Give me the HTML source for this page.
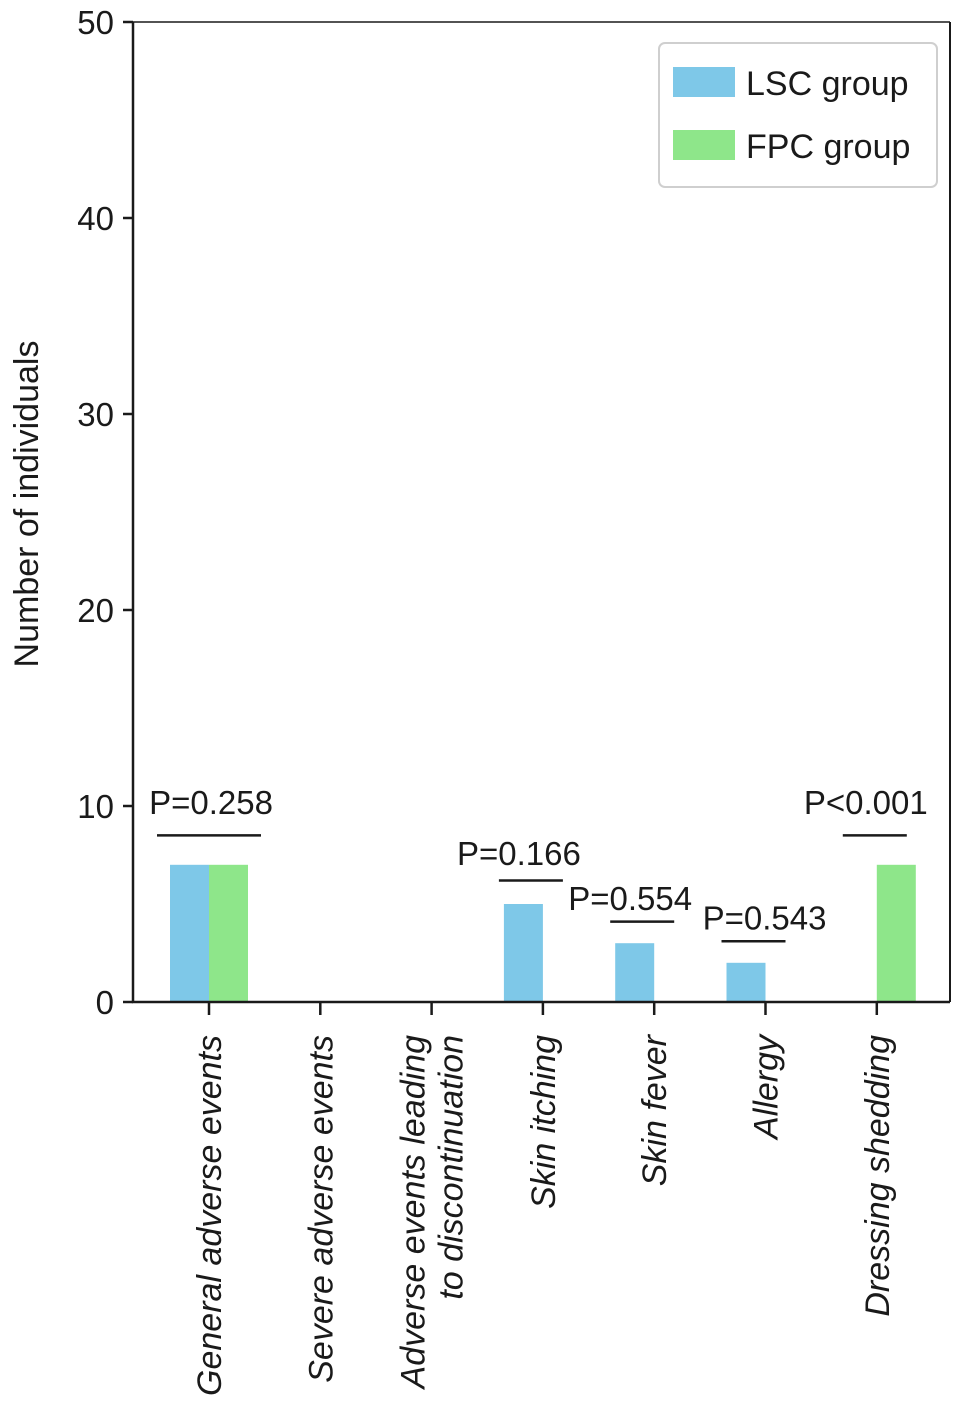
<!DOCTYPE html>
<html><head><meta charset="utf-8"><style>
html,body{margin:0;padding:0;background:#fff;}
svg text{font-family:"Liberation Sans",Arial,sans-serif;fill:#1a1a1a;}
</style></head><body>
<svg id="chart" width="969" height="1406" viewBox="0 0 969 1406" xmlns="http://www.w3.org/2000/svg"></svg>
<script>
const categories = ["General adverse events","Severe adverse events","Adverse events leading|to discontinuation","Skin itching","Skin fever","Allergy","Dressing shedding"];
const lscValues = [7,0,0,5,3,2,0];
const fpcValues = [7,0,0,0,0,0,7];
const yTicks = [0,10,20,30,40,50];
const pLabels = ["P=0.258","","","P=0.166","P=0.554","P=0.543","P<0.001"];
const pLineValues = [8.5,null,null,6.2,4.1,3.1,8.5];
const pTextValues = [10.2,null,null,7.6,5.3,4.3,10.2];

const NS="http://www.w3.org/2000/svg";
const svg=document.getElementById('chart');
const X0=133,X1=950,Y0=1002,Y1=22;
const firstC=209,step=111.3,barW=39;
const textShift=[2,0,0,-24,-24,-1,-11];
function xC(i){return firstC+i*step;}
function y(v){return Y0-(v/50)*(Y0-Y1);}
function mk(tag,attrs,parent){const e=document.createElementNS(NS,tag);for(const k in attrs)e.setAttribute(k,attrs[k]);(parent||svg).appendChild(e);return e;}

categories.forEach((c,i)=>{
  if(lscValues[i]>0){
    const r=mk('rect',{x:xC(i)-barW,y:y(lscValues[i]),width:barW,height:Y0-y(lscValues[i]),fill:'#7ec8e8'});
    
    
  }
  if(fpcValues[i]>0){
    const r=mk('rect',{x:xC(i),y:y(fpcValues[i]),width:barW,height:Y0-y(fpcValues[i]),fill:'#8ee68a'});
    
    
  }
});

const ax=mk('path',{d:`M${X0} ${Y1} V${Y0} H${X1}`,stroke:'#1a1a1a','stroke-width':2.5,fill:'none'});


const rax=mk('path',{d:`M${X1} ${Y0} V${Y1}`,stroke:'#1a1a1a','stroke-width':2,fill:'none'});


const tax=mk('path',{d:`M${X0} ${Y1} H${X1}`,stroke:'#1a1a1a','stroke-width':1.5,fill:'none'});



yTicks.forEach(t=>{
  const l=mk('line',{x1:X0-10,x2:X0,y1:y(t),y2:y(t),stroke:'#1a1a1a','stroke-width':2.5});
  
  
  const tx=mk('text',{x:114,y:y(t)+12,'text-anchor':'end','font-size':33});
  tx.textContent=t;
  
  
});

const yt=mk('text',{transform:'translate(38,504) rotate(-90)','text-anchor':'middle','font-size':34});
yt.textContent='Number of individuals';



categories.forEach((c,i)=>{
  const l=mk('line',{x1:xC(i),x2:xC(i),y1:Y0,y2:Y0+13,stroke:'#1a1a1a','stroke-width':2.5});
  
  
  const lines=c.split('|');
  lines.forEach((ln,k)=>{
    const off=(k-(lines.length-1)/2)*38;
    const tx=mk('text',{transform:`translate(${xC(i)+12+off},1035) rotate(-90)`,'text-anchor':'end','font-size':34,'font-style':'italic'});
    tx.textContent=ln;
    
    
  });
  if(pLabels[i]){
    let lx1=xC(i)-52,lx2=xC(i)+52;
    if(lscValues[i]>0&&fpcValues[i]===0){lx1=xC(i)-44;lx2=xC(i)+20;}
    if(fpcValues[i]>0&&lscValues[i]===0){lx1=xC(i)-34;lx2=xC(i)+30;}
    const pl=mk('line',{x1:lx1,x2:lx2,y1:y(pLineValues[i]),y2:y(pLineValues[i]),stroke:'#1a1a1a','stroke-width':2.5});
    
    
    const pt=mk('text',{x:xC(i)+textShift[i],y:y(pTextValues[i])+12,'text-anchor':'middle','font-size':33});
    pt.textContent=pLabels[i];
    
    
  }
});

const lg=mk('g',{});


mk('rect',{x:659,y:43,width:278,height:144,rx:6,fill:'#fff',stroke:'#cfcfcf','stroke-width':2},lg);
const items=[['LSC group','#7ec8e8',67],['FPC group','#8ee68a',130]];
items.forEach(([t,col,yy])=>{
  const s=mk('rect',{x:673,y:yy,width:62,height:30,fill:col},lg);
  
  
  const tx=mk('text',{x:746,y:yy+28,'font-size':34},lg);
  tx.textContent=t;
  
  
});
</script>
</body></html>
